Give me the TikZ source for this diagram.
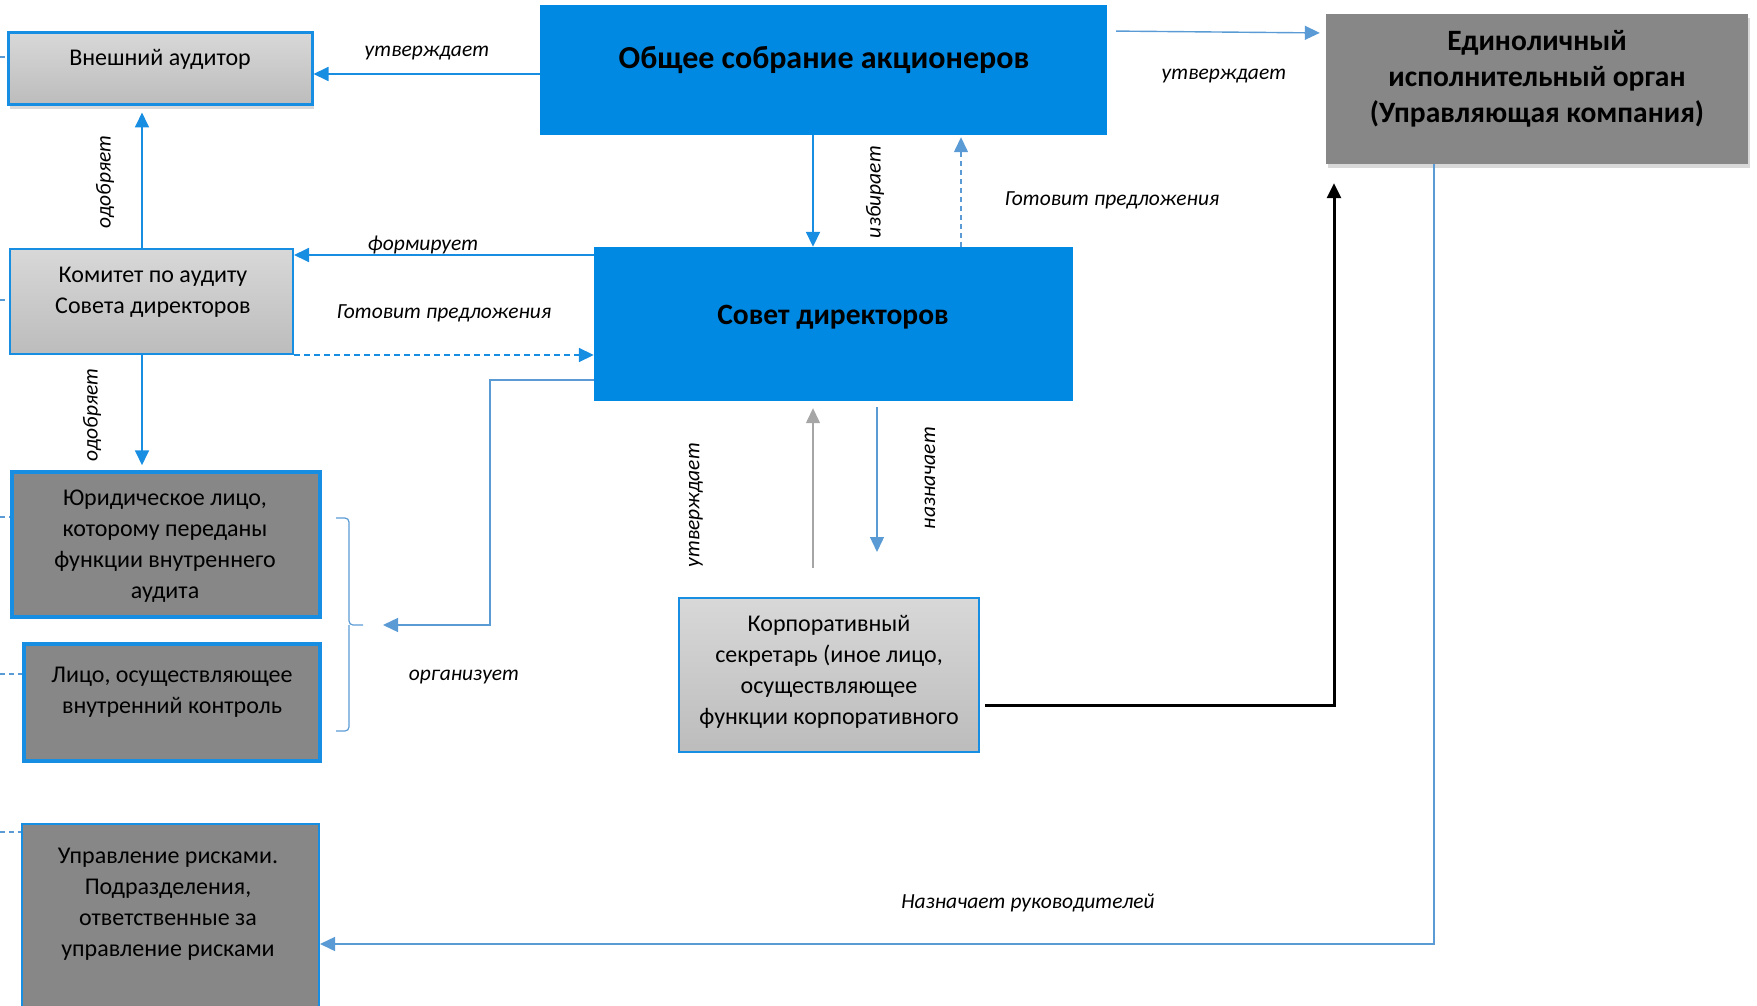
\documentclass[tikz,border=0pt]{standalone}
\usepackage{fontspec}
\setmainfont{Carlito}
\usetikzlibrary{arrows.meta,shadows}

\definecolor{boxblue}{RGB}{0,137,226}
\definecolor{lineblue}{RGB}{24,142,226}
\definecolor{softblue}{RGB}{91,155,213}
\definecolor{boxgrey}{RGB}{135,135,135}
\definecolor{lighttop}{RGB}{216,216,216}
\definecolor{lightbot}{RGB}{188,188,188}
\definecolor{arrowgrey}{RGB}{166,166,166}

\tikzset{
  bluebox/.style={rectangle, fill=boxblue, inner sep=0pt},
  lightbox/.style={rectangle, draw=lineblue, line width=2pt, top color=lighttop, bottom color=lightbot, inner sep=0pt},
  darkbox/.style={rectangle, draw=lineblue, line width=3.5pt, fill=boxgrey, inner sep=0pt},
  shadowed/.style={drop shadow={shadow xshift=2pt, shadow yshift=-4pt, opacity=0.3}},
  boxtext/.style={align=center, inner sep=0pt, font=\fontsize{24}{31}\selectfont},
  headtext/.style={align=center, inner sep=0pt, font=\fontsize{32}{36}\selectfont\bfseries},
  lbl/.style={inner sep=0pt, font=\fontsize{21.5}{24}\selectfont\itshape},
  tip/.style={-{Triangle[length=15pt,width=14pt]}},
  arr/.style={tip, draw=lineblue, line width=1.8pt},
  larr/.style={tip, draw=softblue, line width=1.4pt},
  garr/.style={tip, draw=arrowgrey, line width=1.4pt},
  barr/.style={tip, draw=black, line width=3pt},
  stub/.style={draw=softblue, line width=1.2pt, dash pattern=on 5pt off 4pt},
  brc/.style={draw=softblue, line width=1.2pt, rounded corners=4pt}
}

\begin{document}
\begin{tikzpicture}[x=1pt, y=-1pt]
\useasboundingbox (0,0) rectangle (1757,1006);

%%%%% BOXES %%%%%
\node[lightbox, shadowed, line width=3pt, minimum width=304, minimum height=72] (vaud) at (160,69) {};
\node[boxtext] (vaud-t) at (160,59) {Внешний аудитор};

\node[bluebox, minimum width=567, minimum height=130] (obs) at (823.5,70) {};
\node[headtext] (obs-t) at (824,60) {Общее собрание акционеров};

\node[rectangle, fill=boxgrey, shadowed, inner sep=0pt, minimum width=422, minimum height=150] (edin) at (1537,89) {};
\node[headtext, font=\fontsize{29.5}{36}\selectfont\bfseries] (edin-t) at (1537,79) {Единоличный\\исполнительный орган\\(Управляющая компания)};

\node[lightbox, minimum width=283, minimum height=105] (kom) at (151.5,301.5) {};
\node[boxtext] (kom-t) at (153,292) {Комитет по аудиту\\Совета директоров};

\node[bluebox, minimum width=479, minimum height=154] (sov) at (833.5,324) {};
\node[headtext, font=\fontsize{29.5}{36}\selectfont\bfseries] (sov-t) at (833,317) {Совет директоров};

\node[darkbox, minimum width=308, minimum height=145] (yur) at (166,544.5) {};
\node[boxtext] (yur-t) at (165,546) {Юридическое лицо,\\которому переданы\\функции внутреннего\\аудита};

\node[darkbox, minimum width=296, minimum height=117] (lico) at (172,702.5) {};
\node[boxtext] (lico-t) at (172,692) {Лицо, осуществляющее\\внутренний контроль};

\node[lightbox, minimum width=300, minimum height=154] (korp) at (829,675) {};
\node[boxtext] (korp-t) at (829,672) {Корпоративный\\секретарь (иное лицо,\\осуществляющее\\функции корпоративного};

\node[darkbox, line width=2pt, minimum width=297, minimum height=200] (upr) at (170.5,924) {};
\node[boxtext] (upr-t) at (168,904) {Управление рисками.\\Подразделения,\\ответственные за\\управление рисками};

%%%%% CONNECTORS %%%%%
\coordinate (brtip) at (363,625);
\coordinate (utv-s) at (813,568);
\coordinate (nazn-e) at (877,552);

\draw[arr] (obs.west |- 0,74) -- (vaud.east |- 0,74);
\draw[arr, shorten >=6pt] (142,0 |- kom.north) -- (142,0 |- vaud.south);
\draw[arr] (813,0 |- obs.south) -- (813,0 |- sov.north);
\draw[larr, dash pattern=on 5pt off 4pt, shorten >=2pt] (961,0 |- sov.north) -- (961,0 |- obs.south);
\draw[larr, shorten <=9pt, shorten >=6pt] (obs.east |- 0,31) -- (edin.west |- 0,33);
\draw[arr] (sov.west |- 0,255) -- (kom.east |- 0,255);
\draw[arr, dash pattern=on 6pt off 4pt] (kom.south east) -- (sov.west |- kom.south east);
\draw[arr, shorten >=5pt] (142,0 |- kom.south) -- (142,0 |- yur.north);
\draw[larr, shorten >=20pt] (sov.west |- 0,380) -| (490,0 |- brtip) -- (brtip);
\draw[brc] (336,518) -| (brtip -| 349,0) -- (brtip);
\draw[brc] (336,731) -| (brtip -| 349,0);
\draw[garr, shorten >=7pt] (utv-s) -- (813,0 |- sov.south);
\draw[larr, shorten <=6pt] (877,0 |- sov.south) -- (nazn-e);
\draw[barr, shorten <=5pt, shorten >=19pt] (korp.east |- 0,705) -| (1334,0 |- edin.south);
\draw[larr] (1434,0 |- edin.south) |- (upr.east |- 0,944);

\draw[stub] (0,57) -- (vaud.west |- 0,57);
\draw[stub] (0,300) -- (kom.west |- 0,300);
\draw[stub] (0,517) -- (yur.west |- 0,517);
\draw[stub] (0,674) -- (lico.west |- 0,674);
\draw[stub] (0,832) -- (upr.west |- 0,832);

%%%%% LABELS %%%%%
\node[lbl] (l-utv1) at (427,53) {утверждает};
\node[lbl, rotate=90] (l-odo1) at (105,182) {одобряет};
\node[lbl, rotate=90] (l-izb) at (875,192) {избирает};
\node[lbl] (l-got1) at (1112,200) {Готовит предложения};
\node[lbl] (l-utv2) at (1224,76) {утверждает};
\node[lbl] (l-form) at (423,245) {формирует};
\node[lbl] (l-got2) at (444,313) {Готовит предложения};
\node[lbl, rotate=90] (l-odo2) at (92,415) {одобряет};
\node[lbl] (l-org) at (464,677) {организует};
\node[lbl, rotate=90] (l-utv3) at (696,505) {утверждает};
\node[lbl, rotate=90] (l-nazn) at (930,478) {назначает};
\node[lbl] (l-ruk) at (1028,903) {Назначает руководителей};
\end{tikzpicture}
\end{document}
